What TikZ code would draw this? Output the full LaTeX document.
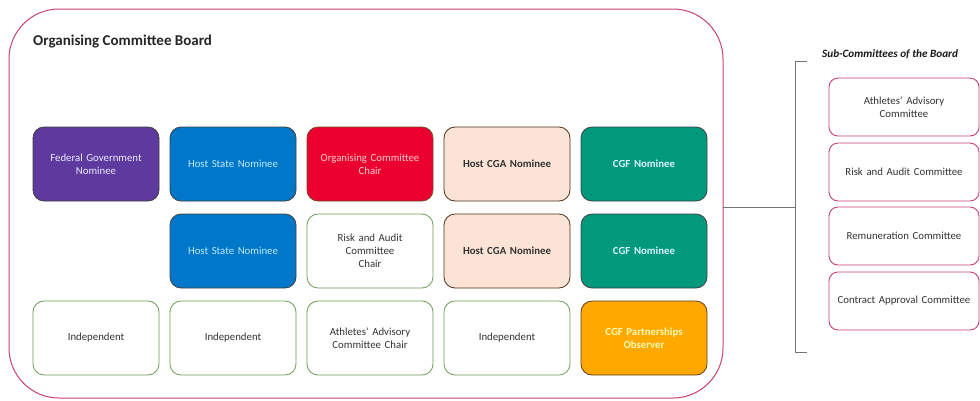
\documentclass[tikz,border=0pt]{standalone}
\usepackage{fontspec}
\setmainfont{Carlito}
\usetikzlibrary{calc}
\begin{document}
\begin{tikzpicture}[x=1pt,y=-1pt,
  bf/.style={font=\fontsize{10.8}{13}\selectfont\bfseries},
  box/.style={draw, rounded corners=11pt, line width=0.8pt, minimum width=126pt, minimum height=74pt, align=center, inner sep=2pt, text width=120pt, font=\fontsize{10.8}{13}\selectfont},
  wbox/.style={box, draw=boxgreen, fill=white, text=black!80},
  cbox/.style={box, draw=black!75},
  sbox/.style={draw=pinkb, rounded corners=9pt, line width=0.9pt, minimum width=150pt, minimum height=58pt, align=center, text width=146pt, font=\fontsize{10.8}{13}\selectfont, text=black!80, inner sep=2pt},
]
\definecolor{pinkb}{HTML}{C8426E}
\definecolor{boxgreen}{HTML}{6E9E55}
\definecolor{cpurple}{HTML}{5E3A9E}
\definecolor{cblue}{HTML}{0077C8}
\definecolor{cred}{HTML}{EC0030}
\definecolor{cpeach}{HTML}{FBE3D5}
\definecolor{cteal}{HTML}{00997C}
\definecolor{corange}{HTML}{FFA800}
\useasboundingbox (0,0) rectangle (980,400);
\fill[white] (0,0) rectangle (980,400);
% board
\draw[pinkb, line width=1pt, rounded corners=50pt] (9,9) rectangle (723,398);
\node[anchor=west, font=\fontsize{15}{17}\selectfont\bfseries, text=black!85, inner sep=0pt] (title) at (33,42) {Organising Committee Board};
% row 1
\node[cbox, fill=cpurple, text=white!92!blue] (fed) at (96,164) {Federal Government\\Nominee};
\node[cbox, fill=cblue, text=cyan!25] (hs1) at (233,164) {Host State Nominee};
\node[cbox, fill=cred, text=red!20, draw=brown!60!black] (occ) at (370,164) {Organising Committee\\Chair};
\node[cbox, fill=cpeach, text=black!80, draw=brown!40!black, bf] (cga1) at (507,164) {Host CGA Nominee};
\node[cbox, fill=cteal, text=cyan!15, bf] (cgf1) at (644,164) {CGF Nominee};
% row 2
\node[cbox, fill=cblue, text=cyan!25] (hs2) at (233,251) {Host State Nominee};
\node[wbox] (rac) at (370,251) {Risk and Audit\\Committee\\Chair};
\node[cbox, fill=cpeach, text=black!80, draw=brown!40!black, bf] (cga2) at (507,251) {Host CGA Nominee};
\node[cbox, fill=cteal, text=cyan!15, bf] (cgf2) at (644,251) {CGF Nominee};
% row 3
\node[wbox] (ind1) at (96,338) {Independent};
\node[wbox] (ind2) at (233,338) {Independent};
\node[wbox] (aac) at (370,338) {Athletes’ Advisory\\Committee Chair};
\node[wbox] (ind3) at (507,338) {Independent};
\node[cbox, fill=corange, text=yellow!30, draw=brown!50!black, bf] (obs) at (644,338) {CGF Partnerships\\Observer};
% connector and bracket
\coordinate (bl) at (723,207);
\coordinate (br) at (795,207);
\coordinate (btop) at (795,61);
\coordinate (bbot) at (795,352);
\draw[black!55, line width=0.7pt] (bl) -- (br);
\draw[black!55, line width=0.7pt] ($(btop)+(12,0)$) -- (btop) -- (bbot) -- ($(bbot)+(12,0)$);
\node[anchor=west, font=\fontsize{11.2}{13}\selectfont\bfseries\itshape, text=black!90, inner sep=0pt] (subt) at (822,54) {Sub-Committees of the Board};
% sub-committees
\node[sbox] (s1) at (904,107) {Athletes’ Advisory\\Committee};
\node[sbox] (s2) at (904,172) {Risk and Audit Committee};
\node[sbox] (s3) at (904,236) {Remuneration Committee};
\node[sbox] (s4) at (904,301) {Contract Approval Committee};
\end{tikzpicture}
\end{document}
